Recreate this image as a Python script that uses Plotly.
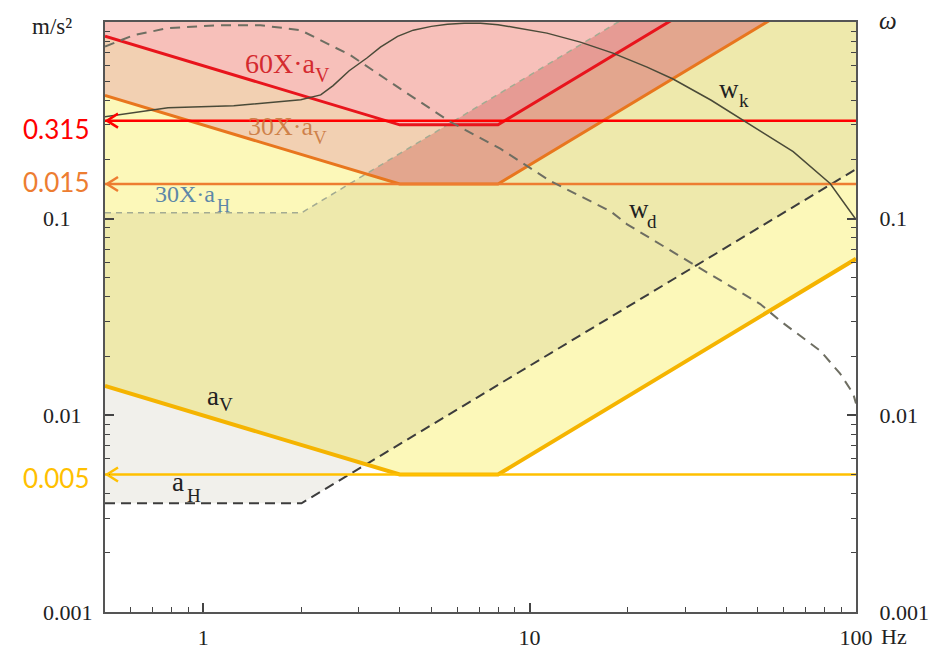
import numpy as np
import plotly.graph_objects as go

# ---- base curves (m/s^2) -------------------------------------------------
FREQ_V = [0.5, 4, 8, 100]
A_V = [0.0141, 0.005, 0.005, 0.0625]          # vertical base curve a_V
FREQ_H = [0.5, 2, 100]
A_H = [0.00357, 0.00357, 0.1785]              # horizontal base curve a_H
V_FACTORS = [30, 60]
H_FACTOR = 30

# ---- frequency weightings (right axis, omega) ----------------------------
WK_FREQ = [0.5, 0.78, 1.24, 1.6, 1.99, 2.29, 2.5, 2.8, 3.18, 3.49, 3.94, 4.4,
           5.0, 5.6, 6.3, 7.07, 8.0, 8.91, 11.3, 14.3, 18.0, 22.9, 27.5, 36,
           48.4, 64.2, 83.3, 100]
WK = [0.330, 0.366, 0.375, 0.388, 0.402, 0.426, 0.475, 0.565, 0.658, 0.745,
      0.845, 0.909, 0.950, 0.975, 0.985, 0.986, 0.968, 0.941, 0.878, 0.790,
      0.695, 0.590, 0.513, 0.400, 0.293, 0.219, 0.151, 0.099]
WD_FREQ = [0.5, 0.612, 0.777, 1.106, 1.497, 1.986, 2.45, 2.82, 4.02, 5.71,
           8.13, 11.6, 17.7, 19.9, 31.7, 50.9, 58.6, 77.7, 89.4, 98.0, 100]
WD = [0.75, 0.857, 0.930, 0.963, 0.963, 0.909, 0.763, 0.679, 0.457, 0.311,
      0.227, 0.155, 0.109, 0.0936, 0.0587, 0.0368, 0.0302, 0.0213, 0.0163,
      0.0129, 0.0115]

# ---- comfort limits marked on the left axis ------------------------------
LIMITS = [0.315, 0.15, 0.005]
LIMIT_TEXT = ["0.315", "0.015", "0.005"]
LIMIT_COLORS = ["#FF0000", "#ED7D31", "#FFC000"]

X_TICKS = [1, 10, 100]
X_TICK_TEXT = ["1", "10", "100"]
Y_TICKS = [0.001, 0.01, 0.1]
Y_TICK_TEXT = ["0.001", "0.01", "0.1"]

W, H = 932, 651
ML, MR, MT, MB = 105, 76, 22, 39
PW, PH = W - ML - MR, H - MT - MB
TOP = 10.0
SERIF = "Liberation Serif"


def paper(px, py):
    return (px - ML) / PW, (H - MB - py) / PH


def crossing(fa, ya, fb, yb):
    """First crossing of two polylines on log-log axes."""
    lf = np.log10(np.union1d(fa, fb))
    la = np.interp(lf, np.log10(fa), np.log10(ya))
    lb = np.interp(lf, np.log10(fb), np.log10(yb))
    d = la - lb
    i = np.where(np.diff(np.sign(d)) != 0)[0][0]
    t = d[i] / (d[i] - d[i + 1])
    lx = lf[i] + t * (lf[i + 1] - lf[i])
    return 10 ** lx, 10 ** np.interp(lx, np.log10(fa), np.log10(ya))


def area(fx, lower, upper, color):
    fx = list(fx)
    return go.Scatter(x=fx + fx[::-1], y=list(lower) + list(upper)[::-1],
                      fill="toself", fillcolor=color, mode="lines",
                      line=dict(width=0), hoverinfo="skip", showlegend=False)


def curve(fx, y, color, width, dash="solid", yaxis="y"):
    return go.Scatter(x=fx, y=y, mode="lines", yaxis=yaxis,
                      line=dict(color=color, width=width, dash=dash),
                      hoverinfo="skip", showlegend=False)


av = np.array(A_V)
ah = np.array(A_H)
k1, k2 = V_FACTORS

fig = go.Figure()

# vertical comfort zones
fig.add_trace(area(FREQ_V, av, k1 * av, "#fcf8b9"))
fig.add_trace(area(FREQ_V, k1 * av, k2 * av, "#f2d0b2"))
fig.add_trace(area(FREQ_V, k2 * av, [TOP] * len(FREQ_V), "#f7c0ba"))

# horizontal band a_H .. 30 a_H
fig.add_trace(area(FREQ_H, ah, H_FACTOR * ah, "rgba(125,115,70,0.11)"))

# part of the horizontal band lying above 30 a_V
fc, yc = crossing(FREQ_V, av, FREQ_H, ah)
fv = [f for f in FREQ_V if f > fc]
fh = [f for f in FREQ_H if f > fc]
poly_x = [fc] + fv + fh[::-1]
poly_y = ([k1 * yc] + [k1 * a for f, a in zip(FREQ_V, A_V) if f > fc]
          + [H_FACTOR * a for f, a in zip(FREQ_H, A_H) if f > fc][::-1])
fig.add_trace(go.Scatter(x=poly_x, y=poly_y, fill="toself",
                         fillcolor="rgba(220,40,50,0.20)", mode="lines",
                         line=dict(width=0), hoverinfo="skip", showlegend=False))

# boundary curves
fig.add_trace(curve(FREQ_H, H_FACTOR * ah, "#a3ab92", 1.5, "6px,5px"))
fig.add_trace(curve(FREQ_H, ah, "#3c3c3c", 2, "10px,6px"))
fig.add_trace(curve(FREQ_V, av, "#F5B400", 4))
fig.add_trace(curve(FREQ_V, k1 * av, "#E8761E", 3))
fig.add_trace(curve(FREQ_V, k2 * av, "#E8141C", 3))

# limit lines
for v, c in zip(LIMITS, LIMIT_COLORS):
    fig.add_trace(curve([FREQ_V[0], FREQ_V[-1]], [v, v], c, 2.5))

# weighting curves on the right axis
fig.add_trace(curve(WD_FREQ, WD, "#6e6e62", 2, "10px,7px", yaxis="y2"))
fig.add_trace(curve(WK_FREQ, WK, "#4a4a38", 1.5, yaxis="y2"))

minor_x = [m * 10 ** e for e in (-1, 0, 1) for m in range(2, 10)
           if 0.5 < m * 10 ** e < 100]
minor_y = [m * 10 ** e for e in (-3, -2, -1) for m in range(2, 10)]

tick_font = dict(family=SERIF, size=22, color="#222")
axis_common = dict(showgrid=False, zeroline=False, showline=True,
                   linecolor="#555", linewidth=2, ticks="inside",
                   tickcolor="#444", tickwidth=1.5, ticklen=9,
                   automargin=False)

# arrowheads at the left end of each limit line
shapes = []
for v, c in zip(LIMITS, LIMIT_COLORS):
    shapes.append(dict(type="path", xref="x", yref="y",
                       xsizemode="pixel", ysizemode="pixel",
                       xanchor=FREQ_V[0], yanchor=v,
                       path="M 13,7 L 2,0 L 13,-7",
                       line=dict(color=c, width=2.5)))

ann = []


def label(txt, px, py, size, color, anchor="left", italic=False, family=SERIF):
    xp, yp = paper(px, py)
    ann.append(dict(x=xp, y=yp, xref="paper", yref="paper", text=txt,
                    showarrow=False, xanchor=anchor, yanchor="middle",
                    font=dict(family=family, size=size, color=color,
                              style="italic" if italic else "normal")))


shifts = [-8, 2, -3]
for v, txt, c, s in zip(LIMITS, LIMIT_TEXT, LIMIT_COLORS, shifts):
    ann.append(dict(x=paper(91, 0)[0], y=np.log10(v), xref="paper", yref="y",
                    text=txt, showarrow=False, xanchor="right",
                    yanchor="middle", yshift=s,
                    font=dict(family="Lato", size=26, color=c)))

# left axis labels (left aligned)
for v, t in zip(Y_TICKS, Y_TICK_TEXT):
    ann.append(dict(x=paper(41, 0)[0], y=np.log10(v), xref="paper", yref="y",
                    text=t, showarrow=False, xanchor="left", yanchor="middle",
                    font=tick_font))

# unit labels
label("m/s²", 30, 26, 23, "#222")
label("ω", 877, 20, 25, "#222", italic=True)
label("Hz", 879, 636, 22, "#222")

# curve labels: main text and subscript drawn separately
curve_labels = [
    # text, x, y, size, colour
    ("60X·a", 243, 63, 28, "#d42a2f"),
    ("V", 313, 75, 20, "#d42a2f"),
    ("30X·a", 246, 127, 26, "rgba(200,115,55,0.85)"),
    ("V", 311, 137, 19, "rgba(200,115,55,0.85)"),
    ("30X·a", 153, 194, 24, "#5d87a8"),
    ("H", 215, 206, 18, "#5d87a8"),
    ("w", 717, 89, 27, "#222"),
    ("k", 737, 100, 19, "#222"),
    ("w", 627, 209, 27, "#222"),
    ("d", 645, 221, 19, "#222"),
    ("a", 205, 396, 27, "#222"),
    ("V", 217, 404, 19, "#222"),
    ("a", 170, 482, 27, "#222"),
    ("H", 185, 495, 19, "#222"),
]
for txt, px, py, size, c in curve_labels:
    label(txt, px, py, size, c)

fig.update_layout(
    width=W, height=H,
    margin=dict(l=ML, r=MR, t=MT, b=MB, autoexpand=False),
    paper_bgcolor="white", plot_bgcolor="white",
    showlegend=False,
    xaxis=dict(type="log", range=[np.log10(0.5), 2], mirror=True,
               tickvals=X_TICKS, ticktext=X_TICK_TEXT, tickfont=tick_font,
               ticklabelstandoff=5,
               minor=dict(tickvals=minor_x, ticks="inside", ticklen=5,
                          tickcolor="#444", tickwidth=1),
               **axis_common),
    yaxis=dict(type="log", range=[-3, 0], tickvals=Y_TICKS,
               showticklabels=False,
               minor=dict(tickvals=minor_y, ticks="inside", ticklen=5,
                          tickcolor="#444", tickwidth=1),
               **axis_common),
    yaxis2=dict(type="log", range=[-3, 0], overlaying="y", side="right",
                tickvals=Y_TICKS, ticktext=Y_TICK_TEXT, tickfont=tick_font,
                ticklabelstandoff=17,
                minor=dict(tickvals=minor_y, ticks="inside", ticklen=5,
                           tickcolor="#444", tickwidth=1),
                **axis_common),
    shapes=shapes,
    annotations=ann,
)

fig.write_html("out.html")
